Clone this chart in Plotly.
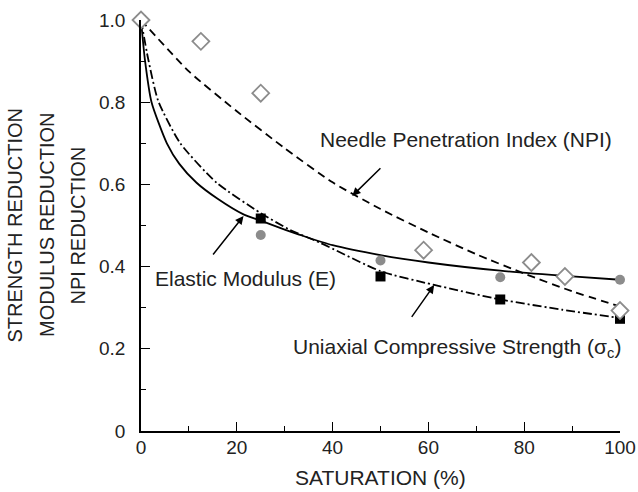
import plotly.graph_objects as go

# ---- data ----
npi_x = [0, 12.5, 25, 59, 81.5, 88.5, 100]
npi_y = [1.0, 0.948, 0.822, 0.44, 0.41, 0.376, 0.293]

e_x = [25, 50, 75, 100]
e_y = [0.477, 0.415, 0.374, 0.368]

ucs_x = [0, 25, 50, 75, 100]
ucs_y = [1.0, 0.517, 0.376, 0.32, 0.273]

# fitted curves
e_curve_x = [0, 0.8, 2.2, 5.4, 8, 11.6, 16, 21.4, 25, 30, 33, 40, 50, 60, 75, 90, 100]
e_curve_y = [1.0, 0.905, 0.80, 0.70, 0.65, 0.604, 0.565, 0.527, 0.512, 0.49, 0.478,
             0.452, 0.428, 0.41, 0.39, 0.376, 0.368]

ucs_curve_x = [0, 1.5, 3.6, 8.2, 15.8, 25, 31, 37.4, 50, 61, 75, 88, 100]
ucs_curve_y = [1.0, 0.905, 0.803, 0.70, 0.604, 0.53, 0.49, 0.458, 0.389, 0.356, 0.32,
               0.295, 0.275]

npi_curve_x = [0, 10, 20, 30, 40, 50, 60, 70, 80, 90, 100]
npi_curve_y = [1.0, 0.875, 0.778, 0.688, 0.605, 0.54, 0.483, 0.43, 0.383, 0.34, 0.303]

x_ticks = [0, 20, 40, 60, 80, 100]
x_tick_text = ["0", "20", "40", "60", "80", "100"]
y_ticks = [0, 0.2, 0.4, 0.6, 0.8, 1.0]
y_tick_text = ["0", "0.2", "0.4", "0.6", "0.8", "1.0"]

FONT = "Arial, Liberation Sans, sans-serif"
TXT = "#222222"
GRAY = "#8c8c8c"

fig = go.Figure()

fig.add_trace(go.Scatter(x=npi_curve_x, y=npi_curve_y, mode="lines", line_shape="spline",
                         line=dict(color="black", width=1.8, dash="8px,5px", smoothing=0.6),
                         cliponaxis=False, hoverinfo="skip"))
fig.add_trace(go.Scatter(x=ucs_curve_x, y=ucs_curve_y, mode="lines", line_shape="spline",
                         line=dict(color="black", width=1.8, dash="9px,3px,2px,3px",
                                   smoothing=0.6),
                         cliponaxis=False, hoverinfo="skip"))
fig.add_trace(go.Scatter(x=e_curve_x, y=e_curve_y, mode="lines", line_shape="spline",
                         line=dict(color="black", width=1.8, smoothing=0.6),
                         cliponaxis=False, hoverinfo="skip"))

fig.add_trace(go.Scatter(x=e_x, y=e_y, mode="markers",
                         marker=dict(symbol="circle", size=10, color=GRAY),
                         cliponaxis=False))
fig.add_trace(go.Scatter(x=ucs_x, y=ucs_y, mode="markers",
                         marker=dict(symbol="square", size=10, color="black"),
                         cliponaxis=False))
fig.add_trace(go.Scatter(x=npi_x, y=npi_y, mode="markers",
                         marker=dict(symbol="diamond", size=13, color="white",
                                     line=dict(color=GRAY, width=1.8)),
                         cliponaxis=False))

annots = []
# arrows
for (hx, hy, tx, ty) in [(44.1, 0.572, 50.3, 0.643),
                         (21.4, 0.523, 14.8, 0.426),
                         (61.2, 0.355, 56.3, 0.274)]:
    annots.append(dict(x=hx, y=hy, ax=tx, ay=ty, xref="x", yref="y", axref="x", ayref="y",
                       text="", showarrow=True, arrowhead=2, arrowsize=1.1,
                       arrowwidth=1.5, arrowcolor="black"))

label_font = dict(family=FONT, size=21, color=TXT)
annots.append(dict(x=67.8, y=0.71, xref="x", yref="y", text="Needle Penetration Index (NPI)",
                   showarrow=False, font=label_font, xanchor="center", yanchor="middle"))
annots.append(dict(x=2.5, y=0.372, xref="x", yref="y", text="Elastic Modulus (E)",
                   showarrow=False, font=label_font, xanchor="left", yanchor="middle"))
annots.append(dict(x=31.4, y=0.202, xref="x", yref="y",
                   text="Uniaxial Compressive Strength (σ<sub>c</sub>)",
                   showarrow=False, font=label_font, xanchor="left", yanchor="middle"))

# axis titles
annots.append(dict(x=0.5, y=0, xref="paper", yref="paper", text="SATURATION (%)",
                   showarrow=False, font=label_font, xanchor="center", yanchor="middle",
                   yshift=-46))
for line, shift in [("STRENGTH REDUCTION", -127), ("MODULUS REDUCTION", -94.5),
                    ("NPI REDUCTION", -64)]:
    annots.append(dict(x=0, y=0.5, xref="paper", yref="paper", text=line, textangle=-90,
                       showarrow=False, font=dict(family=FONT, size=20, color=TXT),
                       xanchor="center", yanchor="middle", xshift=shift))

fig.update_layout(
    width=638, height=492,
    margin=dict(l=141, r=18, t=20, b=61, autoexpand=False),
    paper_bgcolor="white", plot_bgcolor="white",
    showlegend=False,
    font=dict(family=FONT, color=TXT),
    annotations=annots,
)
fig.update_xaxes(range=[0, 100], showgrid=False, zeroline=False, automargin=False,
                 showline=True, linecolor="black", linewidth=1.8,
                 ticks="inside", ticklen=9, tickwidth=1.2, tickcolor="black",
                 tickvals=x_ticks, ticktext=x_tick_text,
                 tickfont=dict(family=FONT, size=19, color=TXT),
                 ticklabelstandoff=-2,
                 minor=dict(ticks="inside", ticklen=5, tickwidth=1, tickcolor="black", dtick=10,
                            tick0=0, showgrid=False))
fig.update_yaxes(range=[0, 1.0], showgrid=False, zeroline=False, automargin=False,
                 showline=True, linecolor="black", linewidth=1.8,
                 ticks="inside", ticklen=9, tickwidth=1.2, tickcolor="black",
                 tickvals=y_ticks, ticktext=y_tick_text,
                 tickfont=dict(family=FONT, size=19, color=TXT),
                 ticklabelstandoff=10,
                 minor=dict(ticks="inside", ticklen=5, tickwidth=1, tickcolor="black", dtick=0.1,
                            tick0=0, showgrid=False))

fig.write_html("out.html")
